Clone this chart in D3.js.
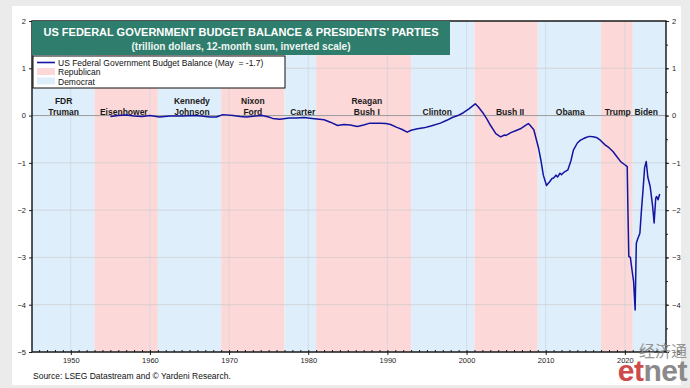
<!DOCTYPE html>
<html>
<head>
<meta charset="utf-8">
<script src="https://cdn.jsdelivr.net/npm/d3@7"></script>
<style>
  body { margin: 0; background: #ebebeb; }
  svg { display: block; font-family: "Liberation Sans", Arial, sans-serif; }
</style>
</head>
<body>
<svg width="690" height="388"></svg>
<script>
// budget balance, trillion dollars, 12-month sum
var years = [1955.0, 1956.0, 1957.0, 1958.0, 1959.0, 1960.0, 1961.2, 1962.5, 1964.1, 1965.5, 1966.5, 1967.6,
  1968.4, 1969.2, 1970.5, 1971.4, 1972.2, 1973.3, 1974.2, 1975.0, 1975.5, 1976.4, 1977.6, 1978.5,
  1979.5, 1980.5, 1982.0, 1982.8, 1983.7, 1984.5, 1985.3, 1986.2, 1987.0, 1987.8, 1989.1, 1989.8,
  1990.4, 1991.2, 1991.8, 1992.5, 1993.0, 1993.8, 1994.6, 1995.5, 1996.7, 1997.5, 1998.2, 1998.9,
  1999.6, 2000.3, 2000.9, 2001.1, 2001.5, 2002.1, 2002.6, 2003.0, 2003.7, 2004.3, 2004.8, 2005.0,
  2005.6, 2006.2, 2006.8, 2007.5, 2007.8, 2008.0, 2008.5, 2009.1, 2009.4, 2009.7, 2010.1, 2010.5,
  2010.8, 2011.0, 2011.3, 2011.5, 2011.8, 2012.0, 2012.3, 2012.8, 2013.2, 2013.5, 2014.0, 2014.4,
  2015.0, 2015.5, 2016.0, 2016.5, 2016.9, 2017.5, 2018.0, 2018.5, 2019.0, 2019.5, 2020.0, 2020.3,
  2020.4, 2020.5, 2020.7, 2020.9, 2021.1, 2021.3, 2021.45, 2021.6, 2021.9, 2022.1, 2022.3, 2022.5,
  2022.7, 2022.9, 2023.2, 2023.5, 2023.7, 2023.9, 2024.0, 2024.2, 2024.4];
var balance = [-0.02, 0.0, 0.01, -0.01, -0.02, 0.0, -0.03, -0.01, -0.01, 0.0, -0.01, -0.03,
  -0.03, 0.02, 0.0, -0.02, -0.03, -0.01, 0.0, -0.03, -0.06, -0.08, -0.05, -0.05,
  -0.04, -0.06, -0.09, -0.14, -0.21, -0.19, -0.2, -0.23, -0.2, -0.16, -0.16, -0.17,
  -0.19, -0.25, -0.29, -0.35, -0.31, -0.28, -0.26, -0.22, -0.16, -0.1, -0.04, 0.0,
  0.06, 0.14, 0.22, 0.25, 0.18, 0.05, -0.08, -0.2, -0.38, -0.45, -0.41, -0.42,
  -0.36, -0.32, -0.28, -0.2, -0.17, -0.2, -0.3, -0.69, -0.95, -1.26, -1.48, -1.4,
  -1.33, -1.32, -1.26, -1.3, -1.22, -1.25, -1.2, -1.15, -0.95, -0.73, -0.58, -0.52,
  -0.47, -0.44, -0.45, -0.47, -0.52, -0.62, -0.68, -0.76, -0.87, -0.98, -1.04, -1.08,
  -2.1, -2.98, -3.0, -3.26, -3.5, -4.11, -2.7, -2.62, -2.49, -2.0, -1.57, -1.1,
  -0.97, -1.3, -1.5, -1.9, -2.27, -1.75, -1.71, -1.78, -1.66];

// presidential terms and party colours
var termStart = [1945.1, 1953, 1961, 1969, 1977, 1981, 1993, 2001, 2009, 2017, 2021];
var termEnd = [1953, 1961, 1969, 1977, 1981, 1993, 2001, 2009, 2017, 2021, 2025.2];
var termParty = ["D", "R", "D", "R", "D", "R", "D", "R", "D", "R", "D"];
var partyColor = { R: "#fdd8d8", D: "#dfeefb" };

// president names at the top of each term
var presNames = [["FDR", "Truman"], ["Eisenhower"], ["Kennedy", "Johnson"], ["Nixon", "Ford"], ["Carter"],
  ["Reagan", "Bush I"], ["Clinton"], ["Bush II"], ["Obama"], ["Trump"], ["Biden"]];
var presYears = [1949.1, 1956.7, 1965.3, 1973.0, 1979.3, 1987.4, 1996.3, 2005.5, 2013.1, 2019.1, 2022.7];

var xTicks = [1950, 1960, 1970, 1980, 1990, 2000, 2010, 2020];
var yTicks = [2, 1, 0, -1, -2, -3, -4, -5];

var svg = d3.select("svg"),
  margin = { top: 21, right: 24, bottom: 36, left: 32 },
  width = 690 - margin.left - margin.right,
  height = 388 - margin.top - margin.bottom;

// page and card background
svg.append("rect").attr("width", 690).attr("height", 388).attr("fill", "#ebebeb");
svg.append("rect").attr("x", 12).attr("y", 6).attr("width", 669).attr("height", 379).attr("fill", "#ffffff");

var g = svg.append("g").attr("transform", "translate(" + margin.left + "," + margin.top + ")");

var x = d3.scaleLinear().domain([1945.1, 2025.2]).range([0, width]);
var y = d3.scaleLinear().domain([-5, 2]).range([height, 0]);

// party bands
g.selectAll(".band")
  .data(termStart)
  .enter().append("rect")
  .attr("class", "band")
  .attr("x", (d) => x(d))
  .attr("y", 0)
  .attr("width", (d, i) => x(termEnd[i]) - x(d))
  .attr("height", height)
  .attr("fill", (d, i) => partyColor[termParty[i]]);

// grid lines
g.selectAll(".vgrid")
  .data(xTicks)
  .enter().append("line")
  .attr("x1", (d) => x(d)).attr("x2", (d) => x(d))
  .attr("y1", 0).attr("y2", height)
  .attr("stroke", "#c9d3dc").attr("stroke-width", 0.6);

g.selectAll(".hgrid")
  .data(yTicks)
  .enter().append("line")
  .attr("x1", 0).attr("x2", width)
  .attr("y1", (d) => y(d)).attr("y2", (d) => y(d))
  .attr("stroke", (d) => d === 0 ? "#9a9a9a" : "#c8c8c8")
  .attr("stroke-width", (d) => d === 0 ? 1 : 0.6);

// president labels
var labels = g.selectAll(".pres")
  .data(presNames)
  .enter().append("text")
  .attr("class", "pres")
  .attr("text-anchor", "middle")
  .attr("font-size", 8.5)
  .attr("font-weight", "bold")
  .attr("fill", "#1a1a1a");

labels.selectAll("tspan")
  .data((d, i) => d.map((name, j) => ({ name: name, i: i, j: j, n: d.length })))
  .enter().append("tspan")
  .attr("x", (d) => x(presYears[d.i]))
  .attr("y", (d) => d.n === 2 ? 83 + d.j * 11 : 94)
  .text((d) => d.name);

// the balance line
var line = d3.line()
  .x((d, i) => x(years[i]))
  .y((d) => y(d));

g.append("path")
  .datum(balance)
  .attr("fill", "none")
  .attr("stroke", "#1414a0")
  .attr("stroke-width", 1.5)
  .attr("stroke-linejoin", "round")
  .attr("d", line);

// axes
var xAxis = d3.axisBottom(x).tickValues(xTicks).tickFormat(d3.format("d")).tickSize(3);
var xMinor = d3.axisBottom(x).tickValues(d3.range(1946, 2026)).tickFormat("").tickSize(-2);
var yLeft = d3.axisLeft(y).tickValues(yTicks).tickSize(3).tickFormat(d3.format("d"));
var yRight = d3.axisRight(y).tickValues(yTicks).tickSize(3).tickFormat(d3.format("d"));
var yRightMinor = d3.axisRight(y).tickValues(d3.range(-5, 2, 0.5)).tickSize(2).tickFormat("");

g.append("g").attr("class", "axis").attr("transform", "translate(0," + height + ")").call(xMinor);
g.append("g").attr("class", "axis").attr("transform", "translate(0," + height + ")").call(xAxis);
g.append("g").attr("class", "axis").call(yLeft);
g.append("g").attr("class", "axis").attr("transform", "translate(" + width + ",0)").call(yRightMinor);
g.append("g").attr("class", "axis").attr("transform", "translate(" + width + ",0)").call(yRight);

g.selectAll(".axis .domain").remove();
g.selectAll(".axis line").attr("stroke", "#222");
g.selectAll(".axis text").attr("font-size", 7.5).attr("fill", "#222")
  .attr("font-family", "Liberation Sans, Arial, sans-serif");

// frame
g.append("rect")
  .attr("width", width).attr("height", height)
  .attr("fill", "none").attr("stroke", "#111").attr("stroke-width", 1.4);

// title box
g.append("rect")
  .attr("x", 0).attr("y", 0).attr("width", 418).attr("height", 34)
  .attr("fill", "#2f7d6c");
g.append("text")
  .attr("x", 209).attr("y", 14.5)
  .attr("text-anchor", "middle").attr("font-size", 11).attr("font-weight", "bold").attr("fill", "#ffffff")
  .text("US FEDERAL GOVERNMENT BUDGET BALANCE & PRESIDENTS\u2019 PARTIES");
g.append("text")
  .attr("x", 209).attr("y", 28.5)
  .attr("text-anchor", "middle").attr("font-size", 10).attr("font-weight", "bold").attr("fill", "#eef5f2")
  .text("(trillion dollars, 12-month sum, inverted scale)");

// legend
var legend = g.append("g").attr("transform", "translate(1,35)");
legend.append("rect")
  .attr("width", 252).attr("height", 32)
  .attr("fill", "#ffffff").attr("stroke", "#111").attr("stroke-width", 1);
legend.append("line")
  .attr("x1", 4).attr("x2", 22).attr("y1", 6.5).attr("y2", 6.5)
  .attr("stroke", "#1414a0").attr("stroke-width", 1.6);
legend.append("rect").attr("x", 4).attr("y", 12).attr("width", 18).attr("height", 7).attr("fill", partyColor.R);
legend.append("rect").attr("x", 4).attr("y", 21.5).attr("width", 18).attr("height", 7).attr("fill", partyColor.D);
var legendText = ["US Federal Government Budget Balance (May  = -1.7)", "Republican", "Democrat"];
legend.selectAll(".lt")
  .data(legendText)
  .enter().append("text")
  .attr("x", 25)
  .attr("y", (d, i) => 9.5 + i * 9.5)
  .attr("font-size", 8.5)
  .attr("fill", "#111")
  .attr("xml:space", "preserve")
  .text((d) => d);

// source
svg.append("text")
  .attr("x", 33).attr("y", 379)
  .attr("font-size", 8.5).attr("fill", "#111")
  .text("Source: LSEG Datastream and \u00a9 Yardeni Research.");

// watermark
svg.append("text")
  .attr("x", 687).attr("y", 357)
  .attr("text-anchor", "end")
  .attr("font-family", "Noto Sans CJK SC")
  .attr("font-size", 16).attr("fill", "#8c8c8c").attr("opacity", 0.9)
  .text("经济通");
var mark = svg.append("text")
  .attr("x", 687).attr("y", 381)
  .attr("text-anchor", "end")
  .attr("font-size", 30).attr("font-weight", "bold").attr("letter-spacing", -0.5);
mark.append("tspan").attr("fill", "#cf4a4a").text("et");
mark.append("tspan").attr("fill", "#8a8a8a").text("net");
</script>
</body>
</html>
